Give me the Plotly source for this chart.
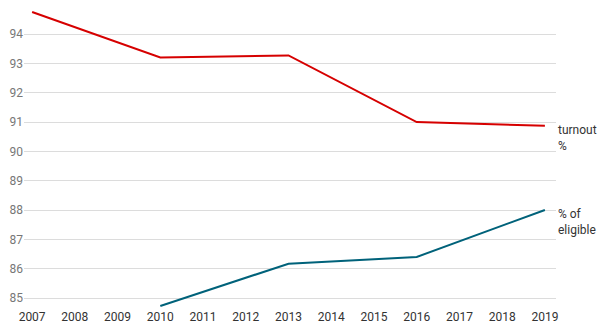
import plotly.graph_objects as go

years_turnout = [2007, 2010, 2013, 2016, 2019]
turnout = [94.75, 93.2, 93.27, 91.0, 90.87]
years_eligible = [2010, 2013, 2016, 2019]
eligible = [84.73, 86.17, 86.4, 88.0]
x_ticks = list(range(2007, 2020))
y_ticks = [85, 86, 87, 88, 89, 90, 91, 92, 93, 94]

RED = "#d60000"
TEAL = "#00627a"

fig = go.Figure()
fig.add_trace(go.Scatter(x=years_turnout, y=turnout, mode="lines",
                         line=dict(color=RED, width=2), hoverinfo="skip"))
fig.add_trace(go.Scatter(x=years_eligible, y=eligible, mode="lines",
                         line=dict(color=TEAL, width=2), hoverinfo="skip"))

for y, txt, col in [(turnout[-1], "turnout<br>%", RED), (eligible[-1], "% of<br>eligible", TEAL)]:
    fig.add_annotation(x=2019, y=y, text=txt, showarrow=False, xanchor="left",
                       yanchor="top", xshift=11, yshift=5, align="left",
                       font=dict(family="Roboto", size=12, color="#333"))
    fig.add_annotation(x=2019, y=y, text="", showarrow=True, arrowhead=0,
                       arrowwidth=1, arrowcolor="rgba(0,0,0,0)", ax=9, ay=0)

fig.update_layout(
    width=600, height=328, margin=dict(l=24, r=44, t=5, b=20),
    paper_bgcolor="white", plot_bgcolor="white", showlegend=False,
    font=dict(family="Roboto", size=12, color="#333"),
)
fig.update_xaxes(range=[2006.81, 2019.26], tickvals=x_ticks, showgrid=False,
                 zeroline=False, showline=False, ticks="",
                 tickfont=dict(color="#333", size=12))
fig.update_yaxes(range=[84.66, 94.99], tickvals=y_ticks, showgrid=True,
                 gridcolor="#dcdcdc", gridwidth=1, zeroline=False, showline=False,
                 ticks="", tickfont=dict(color="#777", size=12))

fig.write_html("out.html")
